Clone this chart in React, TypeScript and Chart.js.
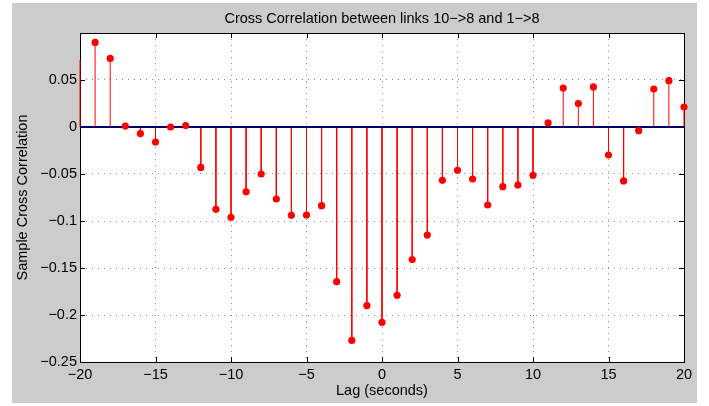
import React, { useEffect, useRef } from "react";
import { Chart, registerables } from "chart.js";

Chart.register(...registerables);

// Lag in seconds and the sample cross correlation at each lag
const lags: number[] = [
  -20, -19, -18, -17, -16, -15, -14, -13, -12, -11, -10, -9, -8, -7, -6, -5, -4, -3, -2, -1,
  0, 1, 2, 3, 4, 5, 6, 7, 8, 9, 10, 11, 12, 13, 14, 15, 16, 17, 18, 19, 20,
];
const xcorrValues: number[] = [
  0.071, 0.09, 0.073, 0.001, -0.007, -0.016, 0.0, 0.0015, -0.043, -0.0876, -0.096, -0.069,
  -0.05, -0.0766, -0.094, -0.0936, -0.0837, -0.1645, -0.227, -0.19, -0.2078, -0.179, -0.141,
  -0.115, -0.0567, -0.046, -0.0553, -0.083, -0.0635, -0.0617, -0.0514, 0.0043, 0.0415, 0.025,
  0.0426, -0.0298, -0.0574, -0.0039, 0.0404, 0.0493, 0.0213,
];
const xTicks: number[] = [-20, -15, -10, -5, 0, 5, 10, 15, 20];
const yTicks: number[] = [-0.25, -0.2, -0.15, -0.1, -0.05, 0, 0.05, 0.1];

const TITLE = "Cross Correlation between links 10\u2212>8 and 1\u2212>8";
const X_TITLE = "Lag (seconds)";
const Y_TITLE = "Sample Cross Correlation";
const FONT_FAMILY = "'Liberation Sans', Arial, Helvetica, sans-serif";
const FONT_SIZE = 14.5;

const fmt = (v: number) => {
  const r = Math.round(v * 100) / 100;
  return String(r).replace("-", "\u2212");
};

// Axes box with inward tick marks on all four sides (drawn under the data)
const framePlugin = {
  id: "frame",
  beforeDatasetsDraw(chart: any) {
    const { ctx, chartArea: a, scales } = chart;
    const len = 5;
    ctx.save();
    ctx.strokeStyle = "#000";
    ctx.lineWidth = 1;
    ctx.beginPath();
    for (const t of xTicks) {
      const x = Math.round(scales.x.getPixelForValue(t)) + 0.5;
      ctx.moveTo(x, a.bottom);
      ctx.lineTo(x, a.bottom - len);
      ctx.moveTo(x, a.top);
      ctx.lineTo(x, a.top + len);
    }
    for (const t of yTicks) {
      const y = Math.round(scales.y.getPixelForValue(t)) + 0.5;
      ctx.moveTo(a.left, y);
      ctx.lineTo(a.left + len, y);
      ctx.moveTo(a.right, y);
      ctx.lineTo(a.right - len, y);
    }
    ctx.stroke();
    ctx.strokeRect(
      Math.round(a.left) + 0.5,
      Math.round(a.top) + 0.5,
      Math.round(a.right - a.left),
      Math.round(a.bottom - a.top)
    );
    ctx.restore();
  },
  afterDraw(chart: any) {
    const { ctx, chartArea: a } = chart;
    ctx.save();
    ctx.fillStyle = "#000";
    ctx.font = `${FONT_SIZE}px ${FONT_FAMILY}`;
    ctx.textAlign = "center";
    ctx.textBaseline = "alphabetic";
    ctx.fillText(TITLE, (a.left + a.right) / 2, 20);
    ctx.restore();
  },
};

// White plot area behind the data
const plotBgPlugin = {
  id: "plotBg",
  beforeDraw(chart: any) {
    const { ctx, chartArea: a } = chart;
    ctx.save();
    ctx.fillStyle = "#fff";
    ctx.fillRect(a.left, a.top, a.right - a.left, a.bottom - a.top);
    ctx.restore();
  },
};

export default function App() {
  const ref = useRef<HTMLCanvasElement | null>(null);

  useEffect(() => {
    if (!ref.current) return;

    // Each stem is a segment from the baseline to the value, separated by gaps
    const stemData: any[] = [];
    lags.forEach((lag, i) => {
      stemData.push({ x: lag, y: 0 });
      stemData.push({ x: lag, y: xcorrValues[i] });
      stemData.push({ x: lag, y: null });
    });
    const markerData = lags.map((lag, i) => ({ x: lag, y: xcorrValues[i] }));

    const chart = new Chart(ref.current, {
      type: "scatter",
      data: {
        datasets: [
          {
            label: "markers",
            data: markerData,
            showLine: false,
            pointRadius: lags.map((l) => (l === -20 ? 0 : 3.6)),
            pointBackgroundColor: "#ff0000",
            pointBorderColor: "#ff0000",
            pointBorderWidth: 0,
            clip: false,
            order: 0,
          } as any,
          {
            label: "baseline",
            data: [
              { x: -20, y: 0 },
              { x: 20, y: 0 },
            ],
            showLine: true,
            borderColor: "#000066",
            borderWidth: 2,
            pointRadius: 0,
            order: 1,
          } as any,
          {
            label: "stems",
            data: stemData,
            showLine: true,
            spanGaps: false,
            borderColor: "#ff0000",
            borderWidth: 1,
            pointRadius: 0,
            clip: false,
            order: 2,
          } as any,
        ],
      },
      options: {
        responsive: false,
        animation: false,
        devicePixelRatio: 1,
        layout: { padding: { top: 30, right: 13, bottom: 0, left: 0 } },
        plugins: {
          legend: { display: false },
          tooltip: { enabled: false },
          title: { display: false },
        },
        scales: {
          x: {
            type: "linear",
            min: -20,
            max: 20,
            afterBuildTicks: (s: any) => {
              s.ticks = xTicks.map((v) => ({ value: v }));
            },
            afterFit: (s: any) => {
              s.height = 41;
            },
            ticks: {
              color: "#000",
              padding: 4,
              maxRotation: 0,
              autoSkip: false,
              font: { family: FONT_FAMILY, size: FONT_SIZE },
              callback: (v: any) => fmt(Number(v)),
            },
            grid: {
              drawTicks: false,
              color: "#8c8c8c",
              lineWidth: 1,
            },
            border: { display: false, dash: [1, 5] } as any,
            title: {
              display: true,
              text: X_TITLE,
              color: "#000",
              font: { family: FONT_FAMILY, size: FONT_SIZE },
              padding: { top: 0, bottom: 3 },
            },
          },
          y: {
            type: "linear",
            min: -0.25,
            max: 0.1,
            afterBuildTicks: (s: any) => {
              s.ticks = yTicks.map((v) => ({ value: v }));
            },
            afterFit: (s: any) => {
              s.width = 68;
            },
            ticks: {
              color: "#000",
              padding: 3,
              autoSkip: false,
              font: { family: FONT_FAMILY, size: FONT_SIZE },
              callback: (v: any) => (Number(v) > 0.075 ? "" : fmt(Number(v))),
            },
            grid: {
              drawTicks: false,
              color: "#8c8c8c",
              lineWidth: 1,
            },
            border: { display: false, dash: [1, 5] } as any,
            title: {
              display: true,
              text: Y_TITLE,
              color: "#000",
              font: { family: FONT_FAMILY, size: FONT_SIZE },
              padding: { top: 2, bottom: 0 },
            },
          },
        },
      },
      plugins: [plotBgPlugin, framePlugin],
    });

    return () => chart.destroy();
  }, []);

  return (
    <div
      style={{
        position: "absolute",
        left: 12,
        top: 3,
        width: 685,
        height: 400,
        background: "#cccccc",
      }}
    >
      <canvas ref={ref} width={685} height={400} style={{ display: "block" }} />
    </div>
  );
}
